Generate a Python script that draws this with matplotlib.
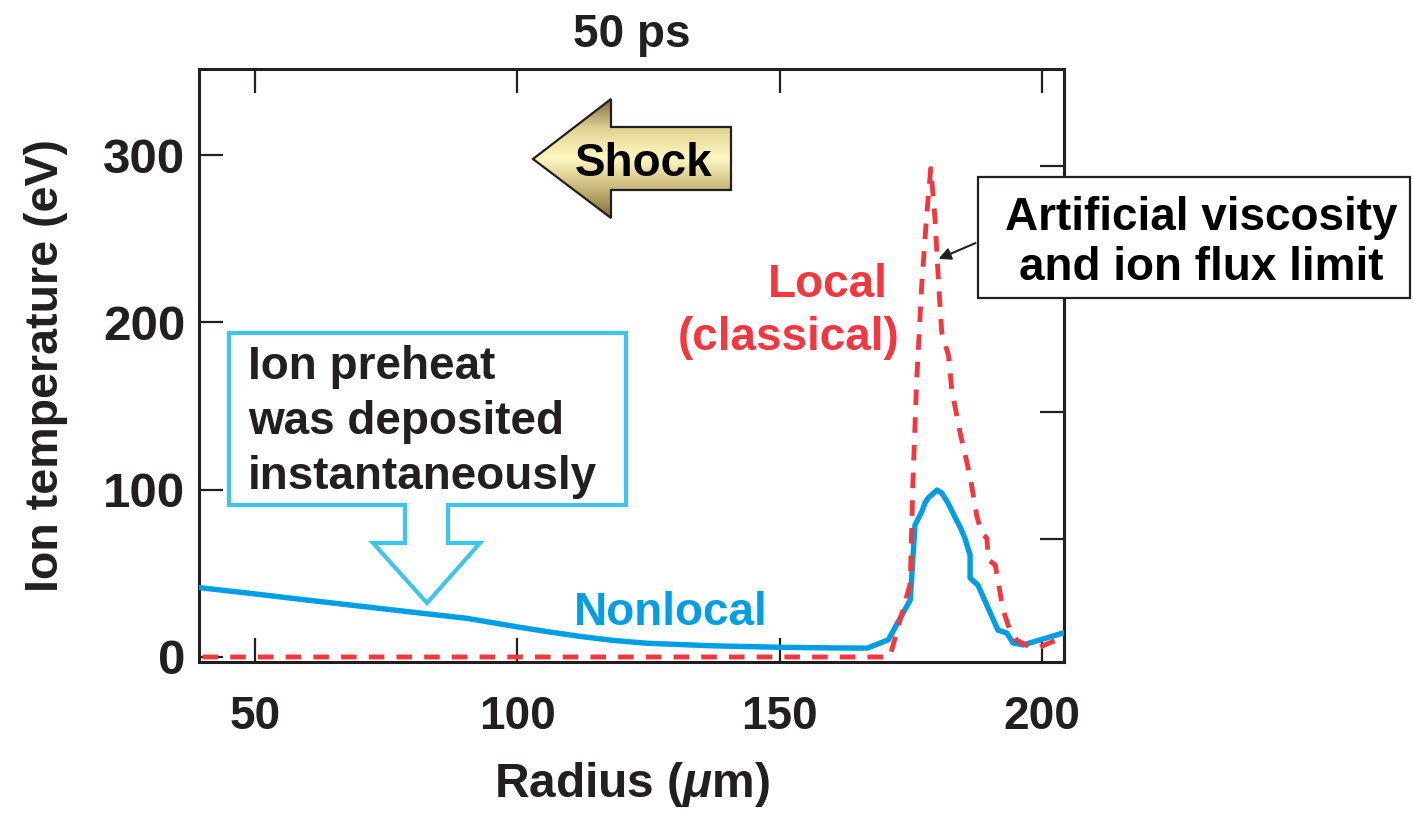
import matplotlib.pyplot as plt
import numpy as np
from matplotlib.patches import Polygon, Rectangle
from matplotlib.colors import LinearSegmentedColormap

plt.rcParams['font.family'] = ['Liberation Sans', 'DejaVu Sans']
plt.rcParams['font.weight'] = 'bold'
plt.rcParams['mathtext.fontset'] = 'custom'
plt.rcParams['mathtext.rm'] = 'Liberation Sans:bold'
plt.rcParams['mathtext.it'] = 'Liberation Sans:italic:bold'
plt.rcParams['mathtext.bf'] = 'Liberation Sans:bold'

# nonlocal ion temperature (eV) vs radius (um)
r_nonlocal = [39.3, 50, 60, 70, 80, 90.4, 100, 106, 112, 118, 124.7, 137, 150, 160, 166.7,
              170.7, 174.9, 175.8, 177.1, 177.7, 178.3, 180.0, 180.9, 182.1, 183.4,
              184.4, 185.3, 186.3, 186.3, 187.8, 191.6, 193.3, 194.5, 196.4, 200.9, 204.2]
t_nonlocal = [41.5, 37.7, 34.0, 30.4, 26.8, 23.1, 18.0, 15.0, 12.3, 10.0, 8.2, 6.7, 5.8, 5.4, 5.3,
              10.2, 34.1, 78.9, 86.9, 92.0, 95.0, 99.8, 98.0, 92.0, 83.7,
              77.7, 71.1, 61.0, 47.2, 43.0, 16.1, 14.3, 8.4, 7.2, 11.4, 14.5]

# local (classical) ion temperature
r_local = [40, 171.0, 174.9, 175.4, 176.1, 177.1, 178.0, 178.8, 179.6, 180.3, 180.9,
           182.2, 182.8, 184.4, 186.3, 187.6, 188.5, 189.5, 189.8, 191.1, 192.6,
           193.9, 195.2, 197.7, 199.6, 204.2]
t_local = [0, 0, 44, 104, 164, 223, 263, 292, 263, 223, 194,
           180, 160, 134, 108, 84, 74, 71, 58, 55, 28,
           16, 10, 6, 6, 12]

x_ticks = [50, 100, 150, 200]
y_ticks = [0, 100, 200, 300]
y_ticks_right = [70.5, 146.5, 220, 293.5]

preheat_lines = ["Ion preheat", "was deposited", "instantaneously"]
visc_lines = ["Artificial viscosity", "and ion flux limit"]

INK = '#231f20'
BLUE = '#009fe3'
CYAN = '#3ec6ea'
RED = '#f2373f'
FS = 33

W, H = 1413, 816
fig = plt.figure(figsize=(W / 100, H / 100), dpi=100)
ax = fig.add_axes([199 / W, (H - 662) / H, 865 / W, 593 / H])

ax.plot(r_nonlocal, t_nonlocal, color=BLUE, lw=3.9, solid_joinstyle='round', zorder=3)
ax.plot(r_local, t_local, color=RED, lw=3.5, dashes=(3.2, 2.5), zorder=4)

ax.set_xlim(39.33, 204.2)
ax.set_ylim(-3, 351.5)
ax.set_xticks(x_ticks)
ax.set_yticks(y_ticks)
for s in ax.spines.values():
    s.set_linewidth(2.2)
    s.set_color(INK)
ax.tick_params(direction='in', length=17, width=1.6, color=INK, labelcolor=INK,
               top=True, right=False)
ax.tick_params(axis='x', pad=24, labelsize=FS)
ax.tick_params(axis='y', pad=10, labelsize=35.5)

sec = ax.secondary_yaxis('right')
sec.set_yticks(y_ticks_right)
sec.tick_params(direction='in', length=17, width=1.6, color=INK, labelright=False)
sec.spines['right'].set_linewidth(2.2)
sec.spines['right'].set_color(INK)

ax.set_xlabel(r'Radius ($\mu$m)', fontsize=34.5, fontweight='bold', color=INK)
ax.set_ylabel('Ion temperature (eV)', fontsize=33.5, fontweight='bold', color=INK)
ax.xaxis.set_label_coords(0.5, -0.165)
ax.yaxis.set_label_coords(-0.152, 0.5)
ax.set_title('50 ps', fontsize=FS, fontweight='bold', color=INK, pad=16)

# annotation layer in pixel coordinates
ov = fig.add_axes([0, 0, 1, 1], zorder=5)
ov.axis('off')

callout = Polygon([(229, 333), (626, 333), (626, 505), (448, 505), (448, 543), (480, 543),
                   (427, 603), (373, 543), (405, 543), (405, 505), (229, 505)],
                  closed=True, fc='white', ec=CYAN, lw=3, joinstyle='miter')
ov.add_patch(callout)
for i, line in enumerate(preheat_lines):
    ov.text(248, 379 + 55 * i, line, fontsize=FS, color=INK, ha='left', va='baseline')

shock = Polygon([(533, 159), (611, 99), (611, 127), (731, 127), (731, 190), (611, 190), (611, 218)],
                closed=True, fc='none', ec=INK, lw=1.6, joinstyle='miter', zorder=3)
ov.add_patch(shock)
gold = LinearSegmentedColormap.from_list('gold', ['#7d6e3e', '#e2d494', '#fff7c2', '#c9b878', '#7d6e3e'])
grad = np.linspace(0, 1, 256).reshape(-1, 1)
im = ov.imshow(grad, extent=(533, 731, 218, 99), origin='upper', cmap=gold, aspect='auto', zorder=2)
im.set_clip_path(shock)
ov.text(644, 176, 'Shock', fontsize=FS, color='black', ha='center', va='baseline', zorder=4)

ov.add_patch(Rectangle((978, 177), 432, 121, fc='white', ec=INK, lw=1.6))
for i, line in enumerate(visc_lines):
    ov.text(1201, 230 + 50 * i, line, fontsize=FS, color='black', ha='center', va='baseline')
ov.annotate('', xy=(936, 260), xytext=(978, 242),
            arrowprops=dict(arrowstyle='-|>', color=INK, lw=1.5, mutation_scale=18))

ov.text(888, 297, 'Local', fontsize=FS, color=RED, ha='right', va='baseline')
ov.text(900, 350, '(classical)', fontsize=FS, color=RED, ha='right', va='baseline')
ov.text(671, 625, 'Nonlocal', fontsize=FS, color=BLUE, ha='center', va='baseline')

ov.set_xlim(0, W)
ov.set_ylim(H, 0)

fig.savefig('out.png', dpi=100)
